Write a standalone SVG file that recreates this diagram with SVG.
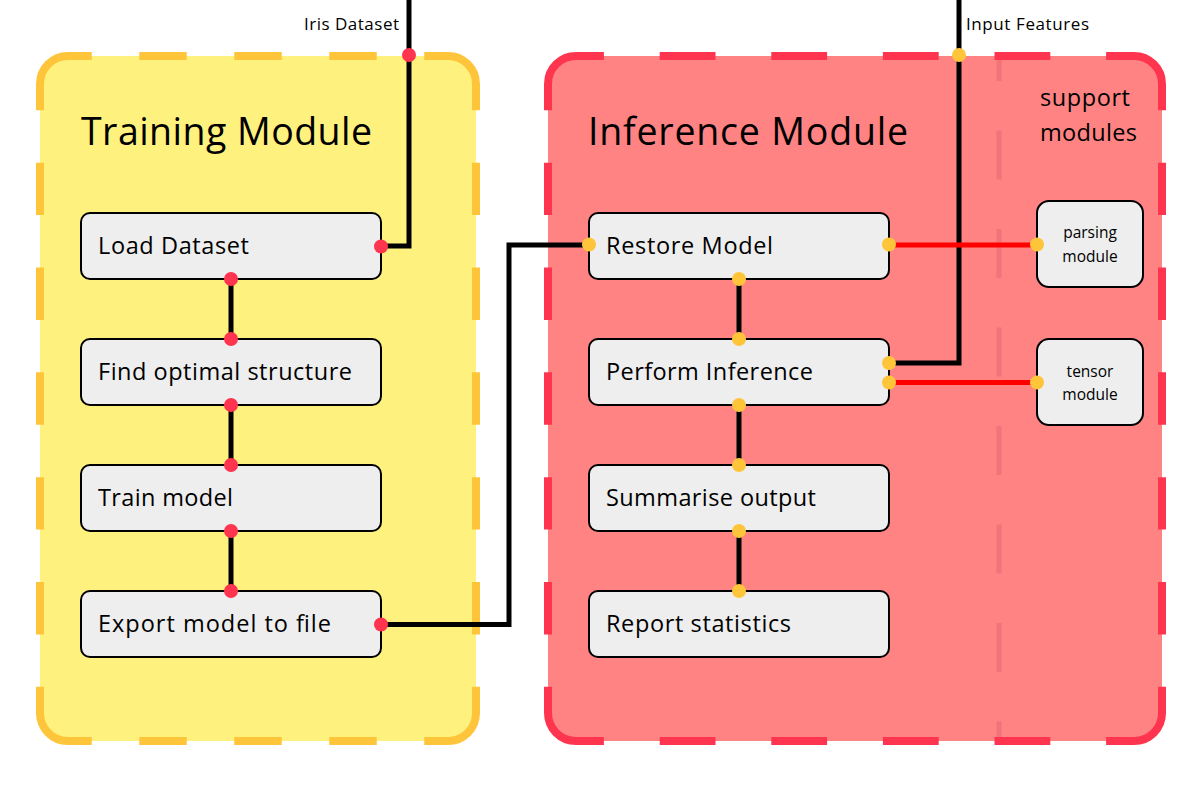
<svg xmlns="http://www.w3.org/2000/svg" width="1200" height="800" viewBox="0 0 1200 800">
<style>
.tb{stroke:#FFC53A;stroke-width:8;fill:none}
.ib{stroke:#FF3550;stroke-width:8;fill:none}
.h1{stroke-dasharray:47.5 47.5;stroke-dashoffset:23.75}
.h2{stroke-dasharray:55.8 55.8;stroke-dashoffset:27.9}
.v{stroke-dasharray:52.42 52.42;stroke-dashoffset:26.21}
.node rect{fill:#EEEEEE;stroke:#000;stroke-width:2}
.nt{font-family:"Open Sans","Liberation Sans",sans-serif;font-size:23.5px;fill:#000}
.st{font-family:"Open Sans","Liberation Sans",sans-serif;font-size:15.5px;fill:#000;text-anchor:middle}
.title{font-family:"Open Sans","Liberation Sans",sans-serif;font-size:37.5px;fill:#000}
.lbl{font-family:"Open Sans","Liberation Sans",sans-serif;font-size:17px;fill:#000}
.sup{font-family:"Open Sans","Liberation Sans",sans-serif;font-size:23.5px;fill:#000}
.bl{stroke:#000;stroke-width:5;fill:none}
.rl{stroke:#FF0000;stroke-width:5;fill:none}
.rd{fill:#FF3550}
.yd{fill:#FFC53A}
</style>
<rect width="1200" height="800" fill="#FFFFFF"/>
<g id="training-module">
<rect x="40" y="56" width="436" height="685" rx="28" fill="#FFF17E"/>
<path class="tb" d="M40,84 A28,28 0 0 1 68,56 M448,56 A28,28 0 0 1 476,84 M476,713 A28,28 0 0 1 448,741 M68,741 A28,28 0 0 1 40,713"/>
<line class="tb h1" x1="68" y1="56" x2="448" y2="56"/>
<line class="tb h1" x1="68" y1="741" x2="448" y2="741"/>
<line class="tb v" x1="40" y1="84" x2="40" y2="713"/>
<line class="tb v" x1="476" y1="84" x2="476" y2="713"/>
<text class="title" x="81" y="145" textLength="291">Training Module</text>
</g>
<g id="inference-module">
<rect x="548" y="56" width="614" height="685" rx="28" fill="#FF8383"/>
<path class="ib" d="M548,84 A28,28 0 0 1 576,56 M1134,56 A28,28 0 0 1 1162,84 M1162,713 A28,28 0 0 1 1134,741 M576,741 A28,28 0 0 1 548,713"/>
<line class="ib h2" x1="576" y1="56" x2="1134" y2="56"/>
<line class="ib h2" x1="576" y1="741" x2="1134" y2="741"/>
<line class="ib v" x1="548" y1="84" x2="548" y2="713"/>
<line class="ib v" x1="1162" y1="84" x2="1162" y2="713"/>
<line x1="999" y1="60" x2="999" y2="737" stroke="#F2737A" stroke-width="5" stroke-dasharray="49 49.5" stroke-dashoffset="28"/>
<text class="title" x="588" y="145" textLength="320">Inference Module</text>
<text class="sup" x="1040" y="106" textLength="90">support</text>
<text class="sup" x="1040" y="141" textLength="97">modules</text>
</g>
<g id="connectors">
<path class="bl" d="M409,0 V246 H381"/>
<path class="bl" d="M231,279 V339 M231,405 V465 M231,531 V591"/>
<path class="bl" d="M381,624.5 H509 V245 H589"/>
<path class="bl" d="M739,279 V339 M739,405 V465 M739,531 V591"/>
<path class="bl" d="M959,0 V363 H889"/>
<path class="rl" d="M889,245 H1037"/>
<path class="rl" d="M889,382.5 H1037"/>
<text class="lbl" x="304" y="30" textLength="95">Iris Dataset</text>
<text class="lbl" x="966" y="30" textLength="123">Input Features</text>
</g>
<g id="load-dataset" class="node"><rect x="81" y="213" width="300" height="66" rx="9"/><text class="nt" x="98" y="254" textLength="151">Load Dataset</text></g>
<g id="find-optimal-structure" class="node"><rect x="81" y="339" width="300" height="66" rx="9"/><text class="nt" x="98" y="380" textLength="254">Find optimal structure</text></g>
<g id="train-model" class="node"><rect x="81" y="465" width="300" height="66" rx="9"/><text class="nt" x="98" y="506" textLength="135">Train model</text></g>
<g id="export-model" class="node"><rect x="81" y="591" width="300" height="66" rx="9"/><text class="nt" x="98" y="632" textLength="233">Export model to file</text></g>
<g id="restore-model" class="node"><rect x="589" y="213" width="300" height="66" rx="9"/><text class="nt" x="606" y="254" textLength="167">Restore Model</text></g>
<g id="perform-inference" class="node"><rect x="589" y="339" width="300" height="66" rx="9"/><text class="nt" x="606" y="380" textLength="207">Perform Inference</text></g>
<g id="summarise-output" class="node"><rect x="589" y="465" width="300" height="66" rx="9"/><text class="nt" x="606" y="506" textLength="210">Summarise output</text></g>
<g id="report-statistics" class="node"><rect x="589" y="591" width="300" height="66" rx="9"/><text class="nt" x="606" y="632" textLength="185">Report statistics</text></g>
<g id="parsing-module" class="node"><rect x="1037" y="201" width="106" height="86" rx="12"/><text class="st" x="1090" y="238">parsing</text><text class="st" x="1090" y="262">module</text></g>
<g id="tensor-module" class="node"><rect x="1037" y="339" width="106" height="86" rx="12"/><text class="st" x="1090" y="377">tensor</text><text class="st" x="1090" y="400">module</text></g>
<g id="ports">
<circle class="rd" cx="409" cy="55" r="7"/>
<circle class="rd" cx="381" cy="246.5" r="7"/>
<circle class="rd" cx="231" cy="279" r="7"/>
<circle class="rd" cx="231" cy="339" r="7"/>
<circle class="rd" cx="231" cy="405" r="7"/>
<circle class="rd" cx="231" cy="465" r="7"/>
<circle class="rd" cx="231" cy="531" r="7"/>
<circle class="rd" cx="231" cy="591" r="7"/>
<circle class="rd" cx="381" cy="624.5" r="7"/>
<circle class="yd" cx="959" cy="55" r="7"/>
<circle class="yd" cx="589" cy="244.5" r="7"/>
<circle class="yd" cx="889" cy="244.5" r="7"/>
<circle class="yd" cx="739" cy="279" r="7"/>
<circle class="yd" cx="739" cy="339" r="7"/>
<circle class="yd" cx="889" cy="363" r="7"/>
<circle class="yd" cx="889" cy="382.5" r="7"/>
<circle class="yd" cx="739" cy="405" r="7"/>
<circle class="yd" cx="739" cy="465" r="7"/>
<circle class="yd" cx="739" cy="531" r="7"/>
<circle class="yd" cx="739" cy="591" r="7"/>
<circle class="yd" cx="1037" cy="244.5" r="7"/>
<circle class="yd" cx="1037" cy="382.5" r="7"/>
</g>
</svg>
